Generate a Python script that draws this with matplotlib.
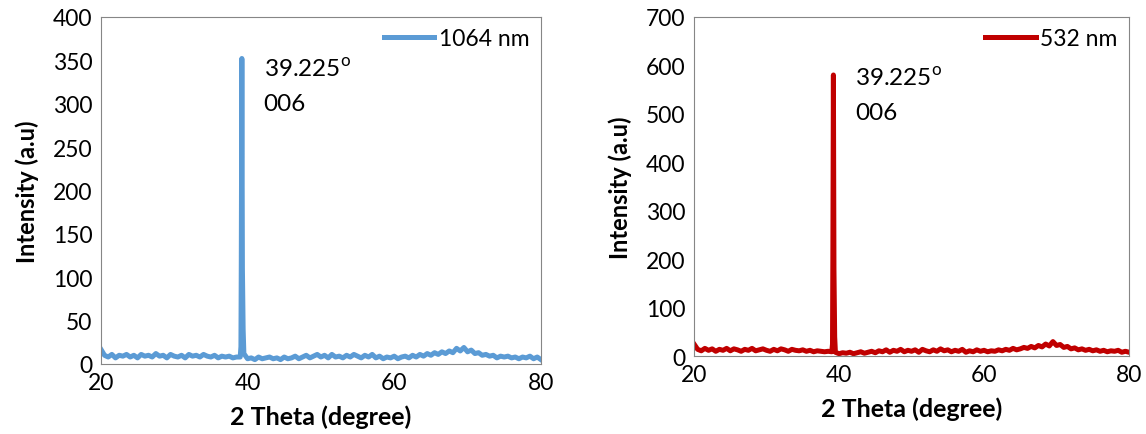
import numpy as np
import matplotlib.pyplot as plt

plt.rcParams['font.family'] = ['Lato', 'DejaVu Sans']

# ----------- DATA ----------- #
base_theta = np.arange(20, 80.01, 0.5)

base_1064 = [17, 10, 8, 11, 7, 10, 9, 11, 8, 10,
             7, 11, 9, 10, 8, 12, 9, 10, 7, 11,
             9, 8, 10, 7, 11, 9, 10, 8, 11, 9,
             8, 10, 7, 9, 8, 9, 7, 8, 8, 12,
             6, 7, 5, 8, 6, 7, 8, 6, 7, 5,
             8, 6, 7, 9, 6, 8, 10, 7, 9, 11,
             8, 10, 7, 11, 8, 9, 7, 10, 8, 11,
             9, 7, 10, 8, 11, 7, 9, 6, 8, 7,
             9, 6, 8, 9, 7, 10, 8, 11, 9, 12,
             10, 13, 11, 14, 12, 15, 13, 18, 15, 19,
             14, 16, 12, 13, 10, 11, 9, 10, 7, 9,
             8, 9, 7, 8, 6, 8, 7, 9, 6, 8,
             5]

base_532 = [25, 14, 11, 16, 12, 15, 10, 14, 12, 16,
            11, 15, 13, 10, 14, 12, 16, 11, 13, 15,
            12, 10, 14, 11, 15, 13, 10, 14, 12, 11,
            13, 10, 12, 9, 11, 10, 9, 10, 9, 8,
            5, 7, 6, 8, 5, 7, 9, 6, 8, 10,
            7, 11, 9, 13, 8, 12, 10, 14, 9, 12,
            10, 13, 8, 14, 11, 9, 13, 10, 15, 11,
            13, 9, 12, 10, 14, 8, 11, 9, 13, 10,
            12, 9, 11, 10, 13, 11, 14, 12, 16, 13,
            15, 18, 16, 20, 17, 22, 19, 25, 21, 30,
            22, 24, 18, 20, 15, 17, 13, 15, 12, 14,
            11, 13, 10, 12, 9, 11, 10, 12, 8, 10,
            8]

peak_theta = [39.1, 39.15, 39.2, 39.225, 39.25, 39.3, 39.4]
peak_1064 = [20, 120, 260, 352, 280, 110, 40]
peak_532 = [25, 200, 450, 580, 460, 180, 40]


def merge(base, peak):
    x = np.concatenate([base_theta, peak_theta])
    y = np.concatenate([base, peak])
    order = np.argsort(x)
    return x[order], y[order]


# ----------- FIGURE ----------- #
fig = plt.figure(figsize=(11.46, 4.35), dpi=100)
ax1 = fig.add_axes([0.088, 0.161, 0.384, 0.798])
ax2 = fig.add_axes([0.6056, 0.179, 0.3796, 0.78])

panels = [
    (ax1, base_1064, peak_1064, '#5B9BD5', '1064 nm', 400, 50, (0.37, 0.885)),
    (ax2, base_532, peak_532, '#C00000', '532 nm', 700, 100, (0.37, 0.855)),
]

for ax, base, peak, color, label, ymax, step, txt in panels:
    x, y = merge(base, peak)
    ax.plot(x, y, color=color, linewidth=3.6, label=label)
    ax.set_xlim(20, 80)
    ax.set_ylim(0, ymax)
    ax.set_xticks([20, 40, 60, 80])
    ax.set_yticks(range(0, ymax + 1, step))
    ax.tick_params(labelsize=16.5, length=0, pad=6)
    for s in ax.spines.values():
        s.set_color('#868686')
    ax.set_xlabel('2 Theta (degree)', fontsize=18, fontweight='bold', labelpad=8)
    ax.set_ylabel('Intensity (a.u)', fontsize=17, fontweight='bold', labelpad=10)
    ax.text(txt[0], txt[1], '39.225$^\\mathregular{o}$\n006', transform=ax.transAxes,
            fontsize=17.5, va='top', ha='left', linespacing=1.75)
    ax.legend(loc='upper right', fontsize=16.5, frameon=False, handlelength=2.2,
              handletextpad=0.2, borderaxespad=0.1)

plt.savefig('out.png', dpi=100)
